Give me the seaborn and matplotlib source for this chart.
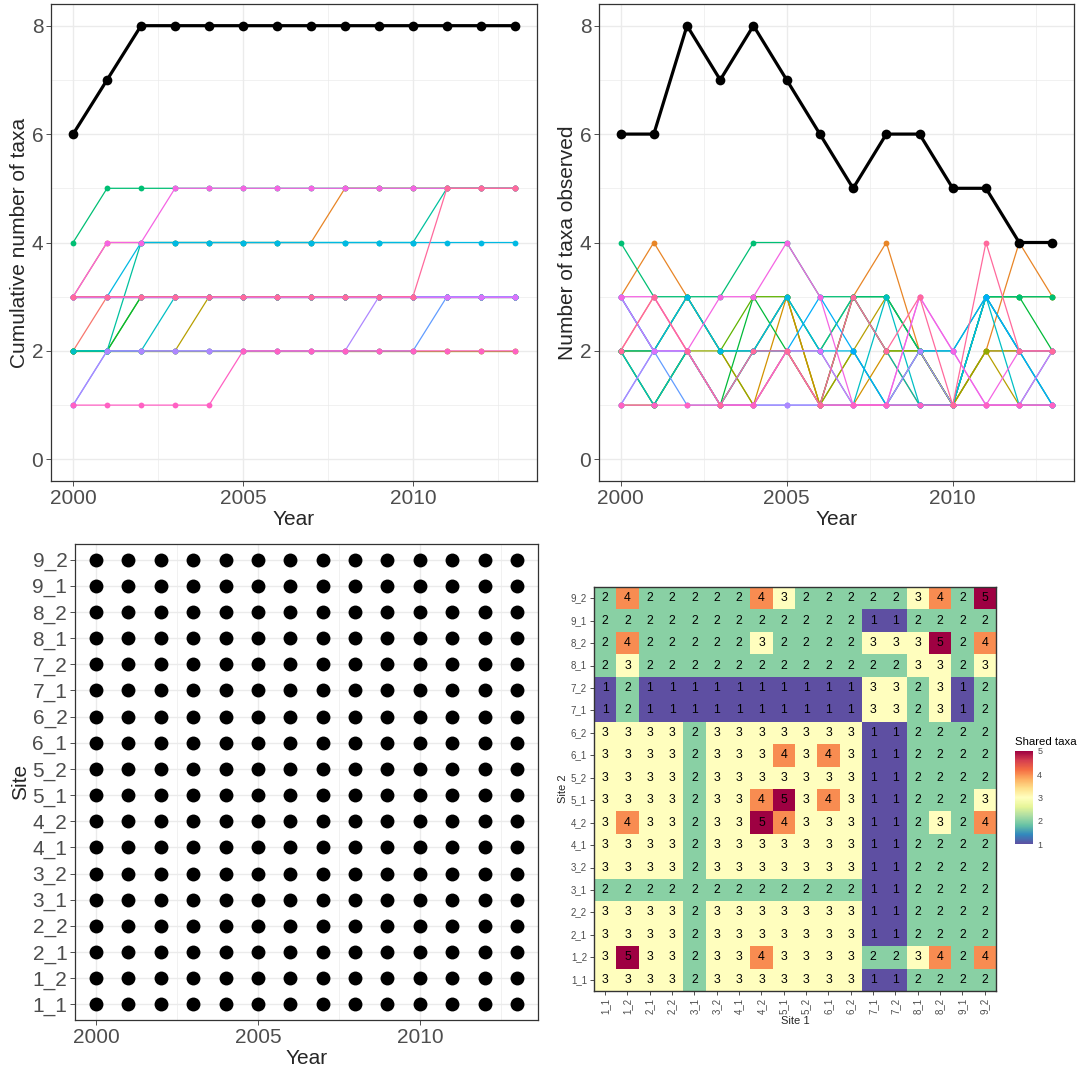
import numpy as np
import pandas as pd
import matplotlib
matplotlib.use("Agg")
import matplotlib.pyplot as plt
from matplotlib.ticker import FixedLocator
import seaborn as sns

# ---------------- data ----------------
years = list(range(2000, 2014))
sites = ["1_1", "1_2", "2_1", "2_2", "3_1", "3_2", "4_1", "4_2", "5_1",
         "5_2", "6_1", "6_2", "7_1", "7_2", "8_1", "8_2", "9_1", "9_2"]

# cumulative number of taxa per site (top-left)
cum_taxa = {
    "1_1": [2, 3, 3, 3, 3, 3, 3, 3, 3, 3, 3, 3, 3, 3],
    "1_2": [3, 4, 4, 4, 4, 4, 4, 4, 5, 5, 5, 5, 5, 5],
    "2_1": [3, 3, 3, 3, 3, 3, 3, 3, 3, 3, 3, 3, 3, 3],
    "2_2": [2, 2, 2, 2, 3, 3, 3, 3, 3, 3, 3, 3, 3, 3],
    "3_1": [2, 2, 2, 2, 2, 2, 2, 2, 2, 2, 2, 2, 2, 2],
    "3_2": [2, 2, 3, 3, 3, 3, 3, 3, 3, 3, 3, 3, 3, 3],
    "4_1": [2, 2, 3, 3, 3, 3, 3, 3, 3, 3, 3, 3, 3, 3],
    "4_2": [4, 5, 5, 5, 5, 5, 5, 5, 5, 5, 5, 5, 5, 5],
    "5_1": [2, 2, 4, 4, 4, 4, 4, 4, 4, 4, 4, 5, 5, 5],
    "5_2": [2, 2, 2, 3, 3, 3, 3, 3, 3, 3, 3, 3, 3, 3],
    "6_1": [3, 3, 4, 4, 4, 4, 4, 4, 4, 4, 4, 4, 4, 4],
    "6_2": [3, 3, 3, 3, 3, 3, 3, 3, 3, 3, 3, 3, 3, 3],
    "7_1": [1, 2, 2, 2, 2, 2, 2, 2, 2, 2, 2, 3, 3, 3],
    "7_2": [1, 2, 2, 2, 2, 2, 2, 2, 2, 3, 3, 3, 3, 3],
    "8_1": [3, 3, 3, 3, 3, 3, 3, 3, 3, 3, 3, 3, 3, 3],
    "8_2": [3, 4, 4, 5, 5, 5, 5, 5, 5, 5, 5, 5, 5, 5],
    "9_1": [1, 1, 1, 1, 1, 2, 2, 2, 2, 2, 2, 2, 2, 2],
    "9_2": [3, 3, 3, 3, 3, 3, 3, 3, 3, 3, 3, 5, 5, 5],
}
cum_total = [6, 7, 8, 8, 8, 8, 8, 8, 8, 8, 8, 8, 8, 8]

# number of taxa observed per site per year (top-right)
obs_taxa = {
    "1_1": [2, 3, 2, 1, 1, 2, 1, 3, 2, 1, 1, 2, 2, 2],
    "1_2": [3, 4, 3, 2, 2, 3, 1, 3, 4, 2, 1, 2, 4, 3],
    "2_1": [2, 2, 3, 2, 1, 3, 1, 1, 2, 2, 1, 3, 2, 2],
    "2_2": [2, 1, 2, 1, 2, 3, 1, 2, 3, 2, 1, 2, 1, 1],
    "3_1": [1, 1, 2, 2, 1, 2, 1, 2, 1, 2, 1, 2, 2, 1],
    "3_2": [2, 2, 3, 2, 3, 3, 2, 3, 2, 2, 1, 3, 3, 3],
    "4_1": [2, 1, 2, 1, 3, 2, 1, 3, 3, 2, 1, 3, 3, 2],
    "4_2": [4, 3, 3, 3, 4, 4, 3, 3, 3, 2, 2, 3, 3, 3],
    "5_1": [2, 2, 3, 2, 2, 3, 2, 3, 2, 1, 1, 3, 2, 2],
    "5_2": [2, 1, 2, 1, 2, 2, 2, 1, 3, 1, 1, 3, 1, 2],
    "6_1": [3, 2, 3, 2, 2, 3, 2, 2, 1, 1, 1, 3, 2, 1],
    "6_2": [3, 2, 2, 1, 2, 2, 3, 2, 1, 2, 2, 3, 2, 1],
    "7_1": [1, 2, 1, 1, 1, 1, 1, 1, 1, 1, 1, 1, 1, 1],
    "7_2": [1, 2, 2, 1, 1, 1, 1, 1, 1, 2, 1, 1, 1, 1],
    "8_1": [3, 2, 2, 1, 1, 2, 2, 1, 1, 3, 2, 1, 1, 2],
    "8_2": [3, 3, 2, 3, 3, 4, 3, 1, 1, 3, 2, 1, 2, 2],
    "9_1": [1, 1, 1, 1, 1, 2, 1, 1, 1, 1, 1, 1, 1, 1],
    "9_2": [2, 3, 2, 1, 2, 2, 1, 3, 2, 3, 1, 4, 2, 2],
}
obs_total = [6, 6, 8, 7, 8, 7, 6, 5, 6, 6, 5, 5, 4, 4]

# shared taxa matrix, rows listed top (9_2) to bottom (1_1), columns 1_1 .. 9_2
heat_rows = ["9_2", "9_1", "8_2", "8_1", "7_2", "7_1", "6_2", "6_1", "5_2",
             "5_1", "4_2", "4_1", "3_2", "3_1", "2_2", "2_1", "1_2", "1_1"]
shared = [
    [2, 4, 2, 2, 2, 2, 2, 4, 3, 2, 2, 2, 2, 2, 3, 4, 2, 5],
    [2, 2, 2, 2, 2, 2, 2, 2, 2, 2, 2, 2, 1, 1, 2, 2, 2, 2],
    [2, 4, 2, 2, 2, 2, 2, 3, 2, 2, 2, 2, 3, 3, 3, 5, 2, 4],
    [2, 3, 2, 2, 2, 2, 2, 2, 2, 2, 2, 2, 2, 2, 3, 3, 2, 3],
    [1, 2, 1, 1, 1, 1, 1, 1, 1, 1, 1, 1, 3, 3, 2, 3, 1, 2],
    [1, 2, 1, 1, 1, 1, 1, 1, 1, 1, 1, 1, 3, 3, 2, 3, 1, 2],
    [3, 3, 3, 3, 2, 3, 3, 3, 3, 3, 3, 3, 1, 1, 2, 2, 2, 2],
    [3, 3, 3, 3, 2, 3, 3, 3, 4, 3, 4, 3, 1, 1, 2, 2, 2, 2],
    [3, 3, 3, 3, 2, 3, 3, 3, 3, 3, 3, 3, 1, 1, 2, 2, 2, 2],
    [3, 3, 3, 3, 2, 3, 3, 4, 5, 3, 4, 3, 1, 1, 2, 2, 2, 3],
    [3, 4, 3, 3, 2, 3, 3, 5, 4, 3, 3, 3, 1, 1, 2, 3, 2, 4],
    [3, 3, 3, 3, 2, 3, 3, 3, 3, 3, 3, 3, 1, 1, 2, 2, 2, 2],
    [3, 3, 3, 3, 2, 3, 3, 3, 3, 3, 3, 3, 1, 1, 2, 2, 2, 2],
    [2, 2, 2, 2, 2, 2, 2, 2, 2, 2, 2, 2, 1, 1, 2, 2, 2, 2],
    [3, 3, 3, 3, 2, 3, 3, 3, 3, 3, 3, 3, 1, 1, 2, 2, 2, 2],
    [3, 3, 3, 3, 2, 3, 3, 3, 3, 3, 3, 3, 1, 1, 2, 2, 2, 2],
    [3, 5, 3, 3, 2, 3, 3, 4, 3, 3, 3, 3, 2, 2, 3, 4, 2, 4],
    [3, 3, 3, 3, 2, 3, 3, 3, 3, 3, 3, 3, 1, 1, 2, 2, 2, 2],
]

# ---------------- style helpers ----------------
def hue_pal(n, l=65, c=100, h0=15):
    """ggplot2-like HCL hue palette."""
    hs = np.linspace(h0, h0 + 360, n + 1)[:-1]
    Xn, Yn, Zn = 95.047, 100.0, 108.883
    un = 4 * Xn / (Xn + 15 * Yn + 3 * Zn)
    vn = 9 * Yn / (Xn + 15 * Yn + 3 * Zn)
    out = []
    for h in hs:
        u = c * np.cos(np.radians(h))
        v = c * np.sin(np.radians(h))
        Y = Yn * ((l + 16) / 116) ** 3
        up = u / (13 * l) + un
        vp = v / (13 * l) + vn
        X = Y * 9 * up / (4 * vp)
        Z = Y * (12 - 3 * up - 20 * vp) / (4 * vp)
        X, Y2, Z = X / 100, Y / 100, Z / 100
        r = 3.2404542 * X - 1.5371385 * Y2 - 0.4985314 * Z
        g = -0.9692660 * X + 1.8760108 * Y2 + 0.0415560 * Z
        b = 0.0556434 * X - 0.2040259 * Y2 + 1.0572252 * Z
        rgb = []
        for ch in (r, g, b):
            ch = 12.92 * ch if ch <= 0.0031308 else 1.055 * ch ** (1 / 2.4) - 0.055
            rgb.append(min(max(ch, 0), 1))
        out.append(tuple(rgb))
    return out

sns.set_style("white")
plt.rcParams["font.family"] = ["Liberation Sans", "DejaVu Sans"]

GRID = "#EBEBEB"
FRAME = "#333333"
TICKC = "#4D4D4D"

palette = dict(zip(sites, hue_pal(len(sites))))

fig = plt.figure(figsize=(10.78, 10.69), dpi=100)
W, H = 1078, 1069

def add_ax(x0, x1, y0, y1):
    return fig.add_axes([x0 / W, 1 - y1 / H, (x1 - x0) / W, (y1 - y0) / H])

def style_bw(ax, xmaj, xmin, ymaj, ymin, tsize=15):
    ax.xaxis.set_major_locator(FixedLocator(xmaj))
    ax.xaxis.set_minor_locator(FixedLocator(xmin))
    ax.yaxis.set_major_locator(FixedLocator(ymaj))
    ax.yaxis.set_minor_locator(FixedLocator(ymin))
    ax.grid(True, which="major", color=GRID, lw=1.0)
    ax.grid(True, which="minor", color=GRID, lw=0.5)
    ax.set_axisbelow(True)
    for s in ax.spines.values():
        s.set_visible(True)
        s.set_color(FRAME)
        s.set_linewidth(0.9)
    ax.tick_params(which="major", direction="out", length=3.5, width=0.6,
                   color=FRAME, labelcolor=TICKC, labelsize=tsize, pad=2,
                   left=True, bottom=True)
    ax.tick_params(which="minor", length=0, left=False, bottom=False)

# ---------------- top-left: cumulative ----------------
cum_df = pd.DataFrame([(s, y, v) for s in sites for y, v in zip(years, cum_taxa[s])],
                      columns=["site", "year", "taxa"])
ax1 = add_ax(51, 537, 4, 481)
sns.lineplot(data=cum_df, x="year", y="taxa", hue="site", hue_order=sites,
             palette=palette, marker="o", markersize=4.2, markeredgewidth=0,
             linewidth=0.9, legend=False, ax=ax1, estimator=None, units="site")
sns.lineplot(x=years, y=cum_total, color="black", linewidth=2.3, marker="o",
             markersize=7, markeredgewidth=0, ax=ax1)
ax1.set_xlim(2000 - 0.65, 2013 + 0.65)
ax1.set_ylim(-0.4, 8.4)
style_bw(ax1, [2000, 2005, 2010], [2002.5, 2007.5, 2012.5], [0, 2, 4, 6, 8], [1, 3, 5, 7])
ax1.set_xlabel("Year", fontsize=15, labelpad=2)
ax1.set_ylabel("Cumulative number of taxa", fontsize=15, labelpad=2)

# ---------------- top-right: observed ----------------
obs_df = pd.DataFrame([(s, y, v) for s in sites for y, v in zip(years, obs_taxa[s])],
                      columns=["site", "year", "taxa"])
ax2 = add_ax(599, 1074, 4, 481)
sns.lineplot(data=obs_df, x="year", y="taxa", hue="site", hue_order=sites,
             palette=palette, marker="o", markersize=4.2, markeredgewidth=0,
             linewidth=0.9, legend=False, ax=ax2, estimator=None, units="site")
sns.lineplot(x=years, y=obs_total, color="black", linewidth=2.3, marker="o",
             markersize=7, markeredgewidth=0, ax=ax2)
ax2.set_xlim(2000 - 0.65, 2013 + 0.65)
ax2.set_ylim(-0.4, 8.4)
style_bw(ax2, [2000, 2005, 2010], [2002.5, 2007.5, 2012.5], [0, 2, 4, 6, 8], [1, 3, 5, 7])
ax2.set_xlabel("Year", fontsize=15, labelpad=2)
ax2.set_ylabel("Number of taxa observed", fontsize=15, labelpad=2)

# ---------------- bottom-left: presence ----------------
pres_df = pd.DataFrame([(s, y) for s in sites for y in years], columns=["site", "year"])
ax3 = add_ax(75, 538, 544, 1020)
sns.scatterplot(data=pres_df, x="year", y="site", color="black", s=100,
                linewidth=0, ax=ax3, legend=False)
ax3.set_xlim(2000 - 0.65, 2013 + 0.65)
ax3.set_ylim(-0.6, len(sites) - 0.4)
style_bw(ax3, [2000, 2005, 2010], [2002.5, 2007.5, 2012.5],
         list(range(len(sites))), [])
ax3.set_yticklabels(sites)
ax3.set_xlabel("Year", fontsize=15, labelpad=2)
ax3.set_ylabel("Site", fontsize=15, labelpad=2)

# ---------------- bottom-right: shared taxa heatmap ----------------
heat_df = pd.DataFrame(shared, index=heat_rows, columns=sites)
ax4 = add_ax(594, 996, 587, 991)
cax = add_ax(1015, 1033, 751, 844)
sns.heatmap(heat_df, ax=ax4, cmap="Spectral_r", vmin=1, vmax=5, annot=True,
            fmt="d", annot_kws={"size": 8.8, "color": "black"},
            cbar_ax=cax, linewidths=0, square=False)
for s in ax4.spines.values():
    s.set_visible(True)
    s.set_color(FRAME)
    s.set_linewidth(1.0)
ax4.tick_params(direction="out", length=3, width=0.6, color=FRAME,
                labelcolor=TICKC, labelsize=7, pad=2, left=True, bottom=True)
ax4.set_xticklabels(sites, rotation=90)
ax4.set_yticklabels(heat_rows, rotation=0)
ax4.set_xlabel("Site 1", fontsize=8, labelpad=1)
ax4.set_ylabel("Site 2", fontsize=8, labelpad=2)

cb = ax4.collections[0].colorbar
cb.set_ticks([1, 2, 3, 4, 5])
cb.outline.set_visible(False)
cax.tick_params(direction="in", length=3, width=0.8, color="white",
                labelsize=6.5, labelcolor=TICKC, left=True, right=True,
                labelleft=False, labelright=True, pad=3)
cax.text(0.0, 1.04, "Shared taxa", transform=cax.transAxes, fontsize=8.2,
         ha="left", va="bottom", color="black")

fig.savefig("out.png", dpi=100)
